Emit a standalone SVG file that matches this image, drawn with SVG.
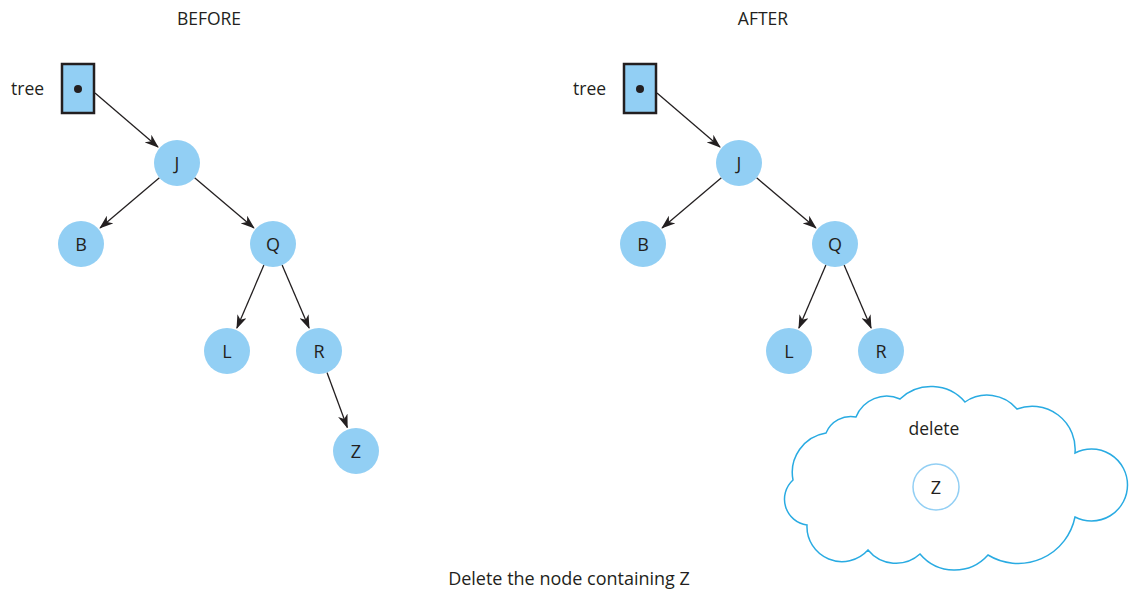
<svg xmlns="http://www.w3.org/2000/svg" width="1129" height="591" viewBox="0 0 1129 591">
<style>
text{font-family:"Open Sans","Liberation Sans",sans-serif;font-size:17.5px;fill:#231f20}
.lbl{text-anchor:middle;dominant-baseline:central;font-size:18px}
.node{fill:#92cff4}
.edge{stroke:#231f20;stroke-width:1.3;fill:none;marker-end:url(#ah)}
.box{fill:#92cff4;stroke:#231f20;stroke-width:2.5}
</style>
<defs>
<marker id="ah" markerUnits="userSpaceOnUse" markerWidth="14" markerHeight="10" refX="13" refY="5" orient="auto">
<path d="M0,0 L14,5 L0,10 L4,5 z" fill="#231f20"/>
</marker>
</defs>
<text x="209" y="25" text-anchor="middle">BEFORE</text>
<text x="763" y="25" text-anchor="middle">AFTER</text>
<text x="569" y="585" text-anchor="middle" style="font-size:18px">Delete the node containing Z</text>

<g id="connectors">
<line class="edge" x1="95" y1="93" x2="158" y2="147"/>
<line class="edge" x1="159.4" y1="177.8" x2="100.1" y2="227.9"/>
<line class="edge" x1="194.6" y1="177.8" x2="253.9" y2="227.9"/>
<line class="edge" x1="263.9" y1="265.1" x2="236.9" y2="328.1"/>
<line class="edge" x1="282.1" y1="265.1" x2="309.1" y2="328.1"/>
<line class="edge" x1="327" y1="372.6" x2="347.3" y2="427.5"/>
<line class="edge" x1="657" y1="93" x2="720" y2="147"/>
<line class="edge" x1="721.4" y1="177.8" x2="662.1" y2="227.9"/>
<line class="edge" x1="756.6" y1="177.8" x2="815.9" y2="227.9"/>
<line class="edge" x1="825.9" y1="265.1" x2="798.9" y2="328.1"/>
<line class="edge" x1="844.1" y1="265.1" x2="871.1" y2="328.1"/>
</g>

<g id="tree-before">
<text x="11" y="95">tree</text>
<rect class="box" x="62" y="64" width="32" height="49"/>
<circle cx="78" cy="89" r="4" fill="#231f20"/>
</g>
<g id="J-before"><circle class="node" cx="177" cy="163" r="23"/><text class="lbl" x="177" y="163">J</text></g>
<g id="B-before"><circle class="node" cx="81" cy="244" r="23"/><text class="lbl" x="81" y="244">B</text></g>
<g id="Q-before"><circle class="node" cx="273" cy="244" r="23"/><text class="lbl" x="273" y="244">Q</text></g>
<g id="L-before"><circle class="node" cx="227" cy="351" r="23"/><text class="lbl" x="227" y="351">L</text></g>
<g id="R-before"><circle class="node" cx="319" cy="351" r="23"/><text class="lbl" x="319" y="351">R</text></g>
<g id="Z-before"><circle class="node" cx="356" cy="451" r="23"/><text class="lbl" x="356" y="451">Z</text></g>

<g id="tree-after">
<text x="573" y="95">tree</text>
<rect class="box" x="624" y="64" width="32" height="49"/>
<circle cx="640" cy="89" r="4" fill="#231f20"/>
</g>
<g id="J-after"><circle class="node" cx="739" cy="163" r="23"/><text class="lbl" x="739" y="163">J</text></g>
<g id="B-after"><circle class="node" cx="643" cy="244" r="23"/><text class="lbl" x="643" y="244">B</text></g>
<g id="Q-after"><circle class="node" cx="835" cy="244" r="23"/><text class="lbl" x="835" y="244">Q</text></g>
<g id="L-after"><circle class="node" cx="789" cy="351" r="23"/><text class="lbl" x="789" y="351">L</text></g>
<g id="R-after"><circle class="node" cx="881" cy="351" r="23"/><text class="lbl" x="881" y="351">R</text></g>

<g id="delete-cloud">
<path d="M793,480 A40,40 0 0 1 826,433 A27,27 0 0 1 856,417 A33,33 0 0 1 900,399 A45,45 0 0 1 965,402 A39,39 0 0 1 1017,409 A43,43 0 0 1 1075,453 A36,36 0 1 1 1075,517 A58,58 0 0 1 988,555 A45,45 0 0 1 920,554 A36,36 0 0 1 868,550 A35,35 0 0 1 807,525 A26,26 0 0 1 793,480 Z" fill="none" stroke="#29abe2" stroke-width="1.5"/>
<text x="934" y="435" text-anchor="middle">delete</text>
<circle cx="936" cy="487" r="23" fill="none" stroke="#92cff4" stroke-width="1.5"/>
<text class="lbl" x="936" y="487">Z</text>
</g>
</svg>
